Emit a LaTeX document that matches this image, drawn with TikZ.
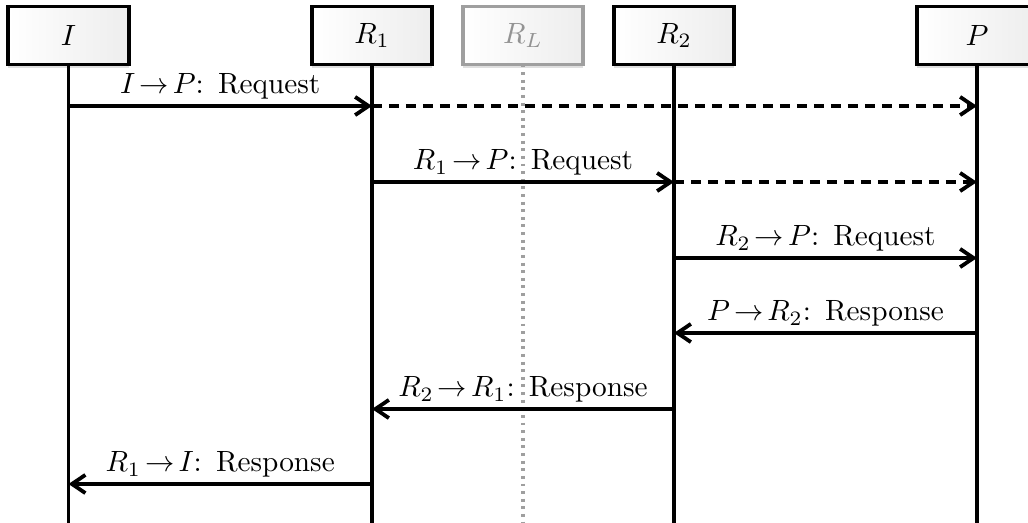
\documentclass[tikz,border=0pt]{standalone}
\usetikzlibrary{arrows.meta,shadows}
\newcommand{\msglabel}[2]{{\thickmuskip=2.5mu $#1$:\hspace{0.4pt} #2}}
\begin{document}
\begin{tikzpicture}[x=0.3413pt,y=-0.3413pt,
  actor/.style={draw=black,line width=1.35pt,minimum width=41pt,minimum height=19.8pt,
    outer sep=0pt,inner sep=0pt,left color=white,right color=gray!14,
    drop shadow={shadow xshift=0pt,shadow yshift=-1.2pt,opacity=0.25}},
  ghost/.style={actor,draw=gray!75,text=gray!85},
  life/.style={line width=1.3pt},
  ghostlife/.style={line width=1.1pt,gray!75,dash pattern=on 1pt off 1.6pt},
  msg/.style={line width=1.3pt,-{Straight Barb[length=4.6pt,width=6.2pt]}},
  fwd/.style={msg,dash pattern=on 3.4pt off 2.4pt},
  lbl/.style={above,inner sep=1.6pt,font=\normalsize}]
\useasboundingbox (0,0) rectangle (1028,523);
\node[actor] (I) at (68.5,35.5) {$I$};
\node[actor] (R1) at (372,35.5) {$R_1$};
\node[ghost] (RL) at (523,35.5) {$R_L$};
\node[actor] (R2) at (674,35.5) {$R_2$};
\node[actor] (P) at (977,35.5) {$P$};
% lifeline ends
\coordinate (Ie) at (68.5,523);
\coordinate (R1e) at (372,523);
\coordinate (RLe) at (523,523);
\coordinate (R2e) at (674,523);
\coordinate (Pe) at (977,523);
\draw[life] (I.south) -- (Ie);
\draw[life] (R1.south) -- (R1e);
\draw[ghostlife] (RL.south) -- (RLe);
\draw[life] (R2.south) -- (R2e);
\draw[life] (P.south) -- (Pe);
% message points
\coordinate (I1) at (68.5,106);  \coordinate (R11) at (372,106); \coordinate (P1) at (977,106);
\coordinate (R12) at (372,182);  \coordinate (R22) at (674,182); \coordinate (P2) at (977,182);
\coordinate (R23) at (674,258);  \coordinate (P3) at (977,258);
\coordinate (P4) at (977,333);   \coordinate (R24) at (674,333);
\coordinate (R25) at (674,409);  \coordinate (R15) at (372,409);
\coordinate (R16) at (372,484);  \coordinate (I6) at (68.5,484);
\draw[msg] (I1) -- node[lbl] {\msglabel{I \to P}{Request}} (R11);
\draw[fwd] (R11) -- (P1);
\draw[msg] (R12) -- node[lbl] {\msglabel{R_1 \to P}{Request}} (R22);
\draw[fwd] (R22) -- (P2);
\draw[msg] (R23) -- node[lbl] {\msglabel{R_2 \to P}{Request}} (P3);
\draw[msg] (P4) -- node[lbl] {\msglabel{P \to R_2}{Response}} (R24);
\draw[msg] (R25) -- node[lbl] {\msglabel{R_2 \to R_1}{Response}} (R15);
\draw[msg] (R16) -- node[lbl] {\msglabel{R_1 \to I}{Response}} (I6);
\end{tikzpicture}
\end{document}
